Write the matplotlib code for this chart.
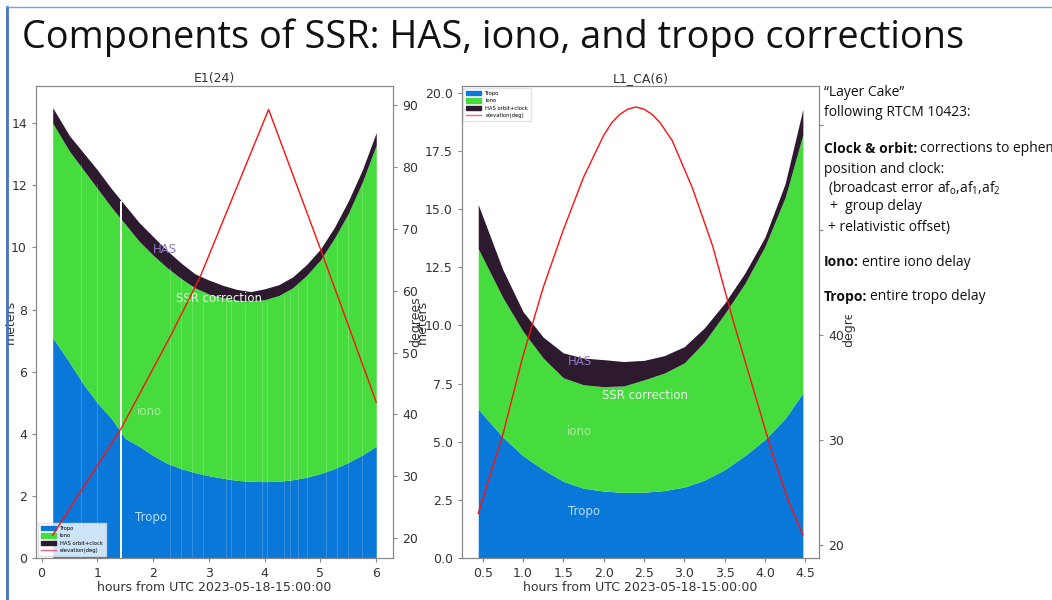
import numpy as np
import matplotlib
matplotlib.use("Agg")
import matplotlib.pyplot as plt
from matplotlib.patches import Rectangle
from matplotlib.lines import Line2D

# ---- E1(24) : Galileo satellite, left panel ----
e1_hours = [0.2, 0.5, 0.75, 1.0, 1.25, 1.5, 1.75, 2.0, 2.25, 2.5, 2.75, 3.0,
            3.25, 3.5, 3.75, 4.0, 4.25, 4.5, 4.75, 5.0, 5.25, 5.5, 5.75, 6.0]
e1_tropo = [7.1, 6.3, 5.6, 5.0, 4.5, 3.85, 3.6, 3.3, 3.05, 2.88, 2.75, 2.65,
            2.57, 2.5, 2.47, 2.46, 2.47, 2.52, 2.6, 2.72, 2.88, 3.08, 3.32, 3.6]
e1_iono = [6.9, 6.8, 6.9, 6.9, 6.8, 6.9, 6.6, 6.45, 6.3, 6.12, 5.95, 5.85,
           5.81, 5.8, 5.81, 5.86, 5.98, 6.18, 6.5, 6.88, 7.42, 8.02, 8.78, 9.7]
e1_has = [0.5, 0.5, 0.55, 0.6, 0.6, 0.6, 0.6, 0.6, 0.55, 0.5, 0.45, 0.45,
          0.4, 0.35, 0.3, 0.35, 0.35, 0.35, 0.35, 0.35, 0.35, 0.4, 0.4, 0.4]
e1_elev_hours = [0.2, 1.43, 2.3, 2.84, 4.07, 5.01, 6.0]
e1_elev = [20.5, 37.8, 52.5, 62.2, 89.3, 66.5, 42.0]
e1_gap_hours = [1.43]
e1_faint_gaps = [0.7, 1.0, 2.3, 2.5, 2.7, 2.9, 3.3, 3.4, 3.65, 3.95, 4.05,
                 4.35, 4.45, 4.6, 4.75, 5.1, 5.3, 5.5, 5.75]

# ---- L1_CA(6) : GPS satellite, right panel ----
ca_hours = [0.445, 0.75, 1.0, 1.25, 1.5, 1.75, 2.0, 2.25, 2.5, 2.75, 3.0,
            3.25, 3.5, 3.75, 4.0, 4.25, 4.47]
ca_tropo = [6.4, 5.2, 4.4, 3.8, 3.3, 3.0, 2.88, 2.82, 2.83, 2.9, 3.05,
            3.35, 3.8, 4.4, 5.1, 6.0, 7.1]
ca_iono = [6.9, 6.0, 5.35, 4.8, 4.45, 4.45, 4.49, 4.58, 4.83, 5.05, 5.34,
           5.95, 6.7, 7.4, 8.3, 9.5, 11.1]
ca_has = [1.9, 1.2, 0.85, 0.9, 1.07, 1.15, 1.16, 1.05, 0.84, 0.75, 0.7,
          0.6, 0.46, 0.45, 0.4, 0.6, 1.1]
ca_elev_hours = [0.445, 0.75, 1.0, 1.25, 1.5, 1.75, 2.0, 2.1, 2.2, 2.3, 2.4,
                 2.5, 2.6, 2.7, 2.85, 3.1, 3.35, 3.6, 3.85, 4.1, 4.3, 4.47]
ca_elev = [23.0, 30.5, 38.0, 44.5, 50.0, 55.0, 59.0, 60.2, 61.0, 61.5, 61.7,
           61.5, 61.0, 60.2, 58.5, 54.0, 48.5, 41.5, 35.0, 28.5, 24.0, 21.0]
ca_deg_ticks = [20, 30, 40, 50, 60]
ca_deg_labels = ["20", "30", "40", "", ""]  # 50/60 hidden under the slide text

xlabel = "hours from UTC 2023-05-18-15:00:00"
legend_labels = ["Tropo", "Iono", "HAS orbit+clock", "elevation(deg)"]

C_TROPO = "#0a78d8"
C_IONO = "#46dc3e"
C_HAS = "#2e1a2e"
C_ELEV = "#ff1010"
TXT = "#333333"

plt.rcParams["font.family"] = ["DejaVu Sans"]
plt.rcParams["axes.edgecolor"] = "#888888"
plt.rcParams["xtick.color"] = "#888888"
plt.rcParams["ytick.color"] = "#888888"
plt.rcParams["xtick.labelcolor"] = TXT
plt.rcParams["ytick.labelcolor"] = TXT
plt.rcParams["mathtext.fontset"] = "custom"
plt.rcParams["mathtext.rm"] = "Open Sans"
plt.rcParams["mathtext.it"] = "Open Sans"

fig = plt.figure(figsize=(10.52, 6.0), dpi=100)
W, H = 1052.0, 600.0


def layer_cake(ax, hours, tropo, iono, has, elev_h, elev, title):
    h = np.array(hours)
    t = np.array(tropo)
    ti = t + np.array(iono)
    tih = ti + np.array(has)
    ax.fill_between(h, 0, t, color=C_TROPO, lw=0)
    ax.fill_between(h, t, ti, color=C_IONO, lw=0)
    ax.fill_between(h, ti, tih, color=C_HAS, lw=0)
    ax.set_title(title, fontsize=9, color=TXT, pad=3)
    ax.set_xlabel(xlabel, fontsize=9, color=TXT, labelpad=1)
    ax.tick_params(labelsize=9, length=3)
    ax2 = ax.twinx()
    ax2.plot(elev_h, elev, color=C_ELEV, lw=1.0)
    ax2.tick_params(labelsize=9, length=3)
    return ax2, h, tih


def cake_legend(ax, loc):
    handles = [Rectangle((0, 0), 1, 1, color=C_TROPO),
               Rectangle((0, 0), 1, 1, color=C_IONO),
               Rectangle((0, 0), 1, 1, color=C_HAS),
               Line2D([], [], color="#ff6080", lw=1)]
    leg = ax.legend(handles, legend_labels, loc=loc, fontsize=3.8,
                    handlelength=2.8, handleheight=0.9, borderpad=0.6,
                    labelspacing=0.45, borderaxespad=0.3, framealpha=0.8,
                    edgecolor="#dddddd", fancybox=False)
    leg.set_zorder(10)


# left panel
ax1 = fig.add_axes([36 / W, 1 - 558 / H, 357 / W, 472 / H])
ax1b, h1, top1 = layer_cake(ax1, e1_hours, e1_tropo, e1_iono, e1_has,
                            e1_elev_hours, e1_elev, "E1(24)")
for g in e1_faint_gaps:
    ax1.axvline(g, ymax=np.interp(g, h1, top1) / 15.2 - 0.03,
                color="white", lw=0.6, alpha=0.22)
for g in e1_gap_hours:
    ax1.vlines(g, 0, np.interp(g, h1, top1), color="white", lw=1.4)
ax1.set_xlim(-0.1, 6.3)
ax1.set_ylim(0, 15.2)
ax1.set_xticks(range(0, 7))
ax1.set_yticks(range(0, 15, 2))
ax1.set_ylabel("meters", fontsize=9, color=TXT, labelpad=-4)
ax1b.set_ylim(16.8, 93.1)
ax1b.set_yticks(range(20, 91, 10))
ax1b.set_ylabel("degrees", fontsize=9, color=TXT, labelpad=-6.5)
ax1.text(2.0, 9.95, "HAS", color="#8878c0", fontsize=8.5, va="center")
ax1.text(2.41, 8.35, "SSR correction", color="#e8f8e8", fontsize=8.5, va="center")
ax1.text(1.71, 4.72, "iono", color="#a8ec9c", fontsize=8.5, va="center")
ax1.text(1.68, 1.29, "Tropo", color="#b8dcf8", fontsize=8.5, va="center")
cake_legend(ax1, "lower left")

# right panel
ax2 = fig.add_axes([461.7 / W, 1 - 558 / H, 357.3 / W, 472 / H])
ax2b, h2, top2 = layer_cake(ax2, ca_hours, ca_tropo, ca_iono, ca_has,
                            ca_elev_hours, ca_elev, "L1_CA(6)")
ax2.set_xlim(0.24, 4.67)
ax2.set_ylim(0, 20.3)
ax2.set_xticks(np.arange(0.5, 4.51, 0.5))
ax2.set_yticks(np.arange(0, 20.01, 2.5))
ax2.set_ylabel("meters", fontsize=9, color=TXT, labelpad=-3)
ax2b.set_ylim(18.76, 63.7)
ax2b.set_yticks(ca_deg_ticks, labels=ca_deg_labels)
ax2b.set_ylabel("degrees", fontsize=9, color=TXT, labelpad=-1.5)
ax2.text(1.56, 8.45, "HAS", color="#8878c0", fontsize=8.5, va="center")
ax2.text(1.98, 7.0, "SSR correction", color="#e8f8e8", fontsize=8.5, va="center")
ax2.text(1.55, 5.44, "iono", color="#a8ec9c", fontsize=8.5, va="center")
ax2.text(1.56, 2.0, "Tropo", color="#b8dcf8", fontsize=8.5, va="center")
cake_legend(ax2, "upper left")

# slide frame and title
fig.add_artist(Line2D([7 / W, 7 / W], [1 - 7 / H, 0], color="#4472c4", lw=2))
fig.add_artist(Line2D([7 / W, 1], [1 - 7 / H, 1 - 7 / H], color="#7f9fd8", lw=1))
fig.text(22 / W, 1 - 38 / H, "Components of SSR: HAS, iono, and tropo corrections",
         fontsize=27.3, family="Open Sans", color="#111111", va="center")

# side note on the right (white box over the axis labels)
fig.add_artist(Rectangle((824 / W, 1 - 314 / H), (W - 824) / W, 244 / H,
                         transform=fig.transFigure, color="white", zorder=5))
note_font = dict(fontsize=10, family="Open Sans", color="#111111",
                 va="center", zorder=6)
fig.text(824 / W, 1 - 92 / H, "\u201cLayer Cake\u201d", **note_font)
fig.text(824 / W, 1 - 112 / H, "following RTCM 10423:", **note_font)
fig.text(824 / W, 1 - 169 / H, "position and clock:", **note_font)
fig.text(828 / W, 1 - 188 / H,
         r"(broadcast error af$_\mathrm{o}$,af$_\mathrm{1}$,af$_\mathrm{2}$",
         **note_font)
fig.text(830 / W, 1 - 207 / H, "+  group delay", **note_font)
fig.text(828 / W, 1 - 227 / H, "+ relativistic offset)", **note_font)
renderer = fig.canvas.get_renderer()
for y, head, rest in [(149, "Clock & orbit:", "corrections to ephemeris"),
                      (262, "Iono:", "entire iono delay"),
                      (297, "Tropo:", "entire tropo delay")]:
    t = fig.text(824 / W, 1 - y / H, head, fontweight="bold", **note_font)
    x_end = t.get_window_extent(renderer).x1
    fig.text((x_end + 3) / W, 1 - y / H, rest, **note_font)

fig.savefig("out.png", dpi=100)
